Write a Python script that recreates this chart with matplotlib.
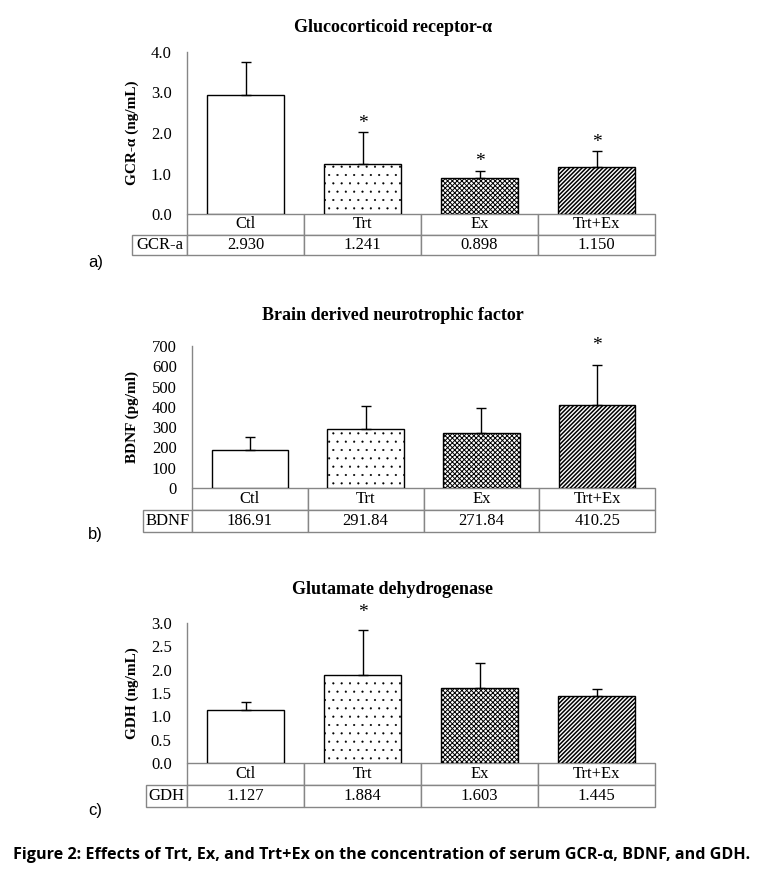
import matplotlib
matplotlib.use("Agg")
import matplotlib.pyplot as plt
import numpy as np

# ---------------- data ----------------
groups = ["Ctl", "Trt", "Ex", "Trt+Ex"]

gcr_values = [2.930, 1.241, 0.898, 1.150]
gcr_errors = [0.83, 0.78, 0.17, 0.40]
gcr_sig = [False, True, True, True]

bdnf_values = [186.91, 291.84, 271.84, 410.25]
bdnf_errors = [64, 111, 122, 195]
bdnf_sig = [False, False, False, True]

gdh_values = [1.127, 1.884, 1.603, 1.445]
gdh_errors = [0.18, 0.97, 0.53, 0.15]
gdh_sig = [False, True, False, False]

titles = ["Glucocorticoid receptor-\u03b1", "Brain derived neurotrophic factor",
          "Glutamate dehydrogenase"]
ylabels = ["GCR-\u03b1 (ng/mL)", "BDNF (pg/ml)", "GDH (ng/mL)"]
row_names = ["GCR-a", "BDNF", "GDH"]
caption = ("Figure 2: Effects of Trt, Ex, and Trt+Ex on the concentration of serum "
           "GCR-\u03b1, BDNF, and GDH.")
panel_tags = ["a)", "b)", "c)"]

# ---------------- style ----------------
plt.rcParams['font.family'] = ['Liberation Serif', 'DejaVu Serif']

W, H = 759, 874
fig = plt.figure(figsize=(W / 100, H / 100), dpi=100)

# pixel layout: left, right, top, bottom, table bottom, label cell left
layouts = [
    dict(l=187, r=655, t=52, b=214, tb=255, ll=132, ymax=4.0, step=1.0, fmt="{:.1f}", vfmt="{:.3f}", star=9,
         title_y=27, tag_y=263),
    dict(l=192, r=655, t=346, b=488, tb=532, ll=143, ymax=700, step=100, fmt="{:.0f}", vfmt="{:.2f}", star=20,
         title_y=316, tag_y=535),
    dict(l=187, r=655, t=623, b=763, tb=807, ll=146, ymax=3.0, step=0.5, fmt="{:.1f}", vfmt="{:.3f}", star=17,
         title_y=590, tag_y=811),
]
all_values = [gcr_values, bdnf_values, gdh_values]
all_errors = [gcr_errors, bdnf_errors, gdh_errors]
all_sig = [gcr_sig, bdnf_sig, gdh_sig]

hatches = [None, '..', 'xxxxxxx', '////////']
hatch_lws = [1.0, 0.3, 0.7, 1.1]
grey = '#868686'

for i, L in enumerate(layouts):
    ax = fig.add_axes([L['l'] / W, 1 - L['b'] / H, (L['r'] - L['l']) / W, (L['b'] - L['t']) / H])
    vals = all_values[i]
    errs = all_errors[i]
    x = np.arange(len(groups))
    for j in range(len(groups)):
        with plt.rc_context({'hatch.linewidth': hatch_lws[j]}):
            bars = ax.bar(x[j], vals[j], width=0.66, facecolor='white', edgecolor='black',
                          linewidth=1.0, hatch=hatches[j], zorder=2)
        for p in bars:
            if hasattr(p, 'set_hatch_linewidth'):
                p.set_hatch_linewidth(hatch_lws[j])
    ax.errorbar(x, vals, yerr=[np.zeros(len(vals)), errs], fmt='none', ecolor='black',
                elinewidth=1.0, capsize=3.5, capthick=1.0, zorder=3)
    for j in range(len(groups)):
        if all_sig[i][j]:
            ax.annotate('*', (x[j], vals[j] + errs[j]), xytext=(0, L['star'] * 0.72),
                        textcoords='offset points', ha='center', va='center', fontsize=14)
    ax.set_xlim(-0.5, len(groups) - 0.5)
    ax.set_ylim(0, L['ymax'])
    ticks = np.arange(0, L['ymax'] + L['step'] / 2, L['step'])
    ax.set_yticks(ticks)
    ax.set_yticklabels([L['fmt'].format(t) for t in ticks], fontsize=12)
    ax.tick_params(axis='y', length=0, pad=11)
    ax.set_xticks([])
    for s in ['top', 'right', 'bottom']:
        ax.spines[s].set_visible(False)
    ax.spines['left'].set_color(grey)
    ax.spines['left'].set_linewidth(1.0)
    ax.set_ylabel(ylabels[i], fontsize=11, fontweight='bold')
    ax.yaxis.set_label_coords((139 - L['l']) / (L['r'] - L['l']), 0.5)

    # data table under the axis
    ah = L['b'] - L['t']
    aw = L['r'] - L['l']
    cw = aw / len(groups)
    lw = L['l'] - L['ll']
    cell_text = [[""] + groups, [row_names[i]] + [L['vfmt'].format(v) for v in vals]]
    tbl = ax.table(cellText=cell_text, colWidths=[lw] + [cw] * len(groups),
                   cellLoc='center',
                   bbox=[-lw / aw, -(L['tb'] - L['b']) / ah, (aw + lw) / aw, (L['tb'] - L['b']) / ah])
    tbl.auto_set_font_size(False)
    tbl.set_fontsize(12)
    for key, cell in tbl.get_celld().items():
        cell.set_edgecolor(grey)
        cell.set_linewidth(1.0)
        cell.set_clip_on(False)
    tbl.get_celld()[(0, 0)].visible_edges = ''

    fig.text(393 / W, 1 - L['title_y'] / H, titles[i], ha='center', va='center',
             fontsize=13, fontweight='bold')
    fig.text(88 / W, 1 - L['tag_y'] / H, panel_tags[i], ha='left', va='center',
             fontsize=12, family=['Liberation Sans', 'DejaVu Sans'])

cap = fig.text(13 / W, 1 - 855 / H, caption, ha='left', va='center', fontsize=12,
               fontweight='bold', family=['Open Sans', 'DejaVu Sans'])
fig.canvas.draw()
ext = cap.get_window_extent(fig.canvas.get_renderer())
cap.set_fontsize(12 * 736 / ext.width)

fig.savefig("out.png", dpi=100)
